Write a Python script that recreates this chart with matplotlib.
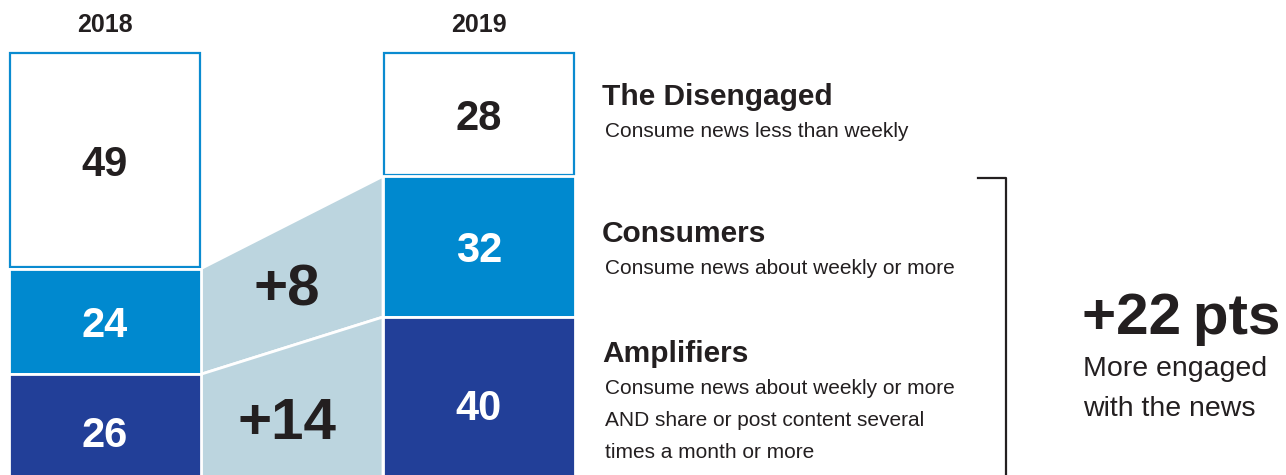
import matplotlib.pyplot as plt

plt.rcParams['font.family'] = ['Liberation Sans', 'DejaVu Sans']

# ---------------- data ----------------
years = ['2018', '2019']
groups = ['The Disengaged', 'Consumers', 'Amplifiers']
descs = [
    ['Consume news less than weekly'],
    ['Consume news about weekly or more'],
    ['Consume news about weekly or more', 'AND share or post content several', 'times a month or more'],
]
disengaged = [49, 28]
consumers = [24, 32]
amplifiers = [26, 40]
changes = ['+8', '+14']
total_change = '+22\u2009pts'
total_note = ['More engaged', 'with the news']

# ---------------- style ----------------
W, H = 1286, 475
TOP = 53      # pixel row where both bars start
S = 4.4       # pixels per percentage point
BORDER = '#0a8bd0'
C_CONS = '#0089cf'
C_AMP = '#223f98'
C_FLOW = '#bcd5df'
INK = '#231f20'

bar_x = [105, 479]
bar_w = 192


def at(px, py):
    # pixel position -> figure fraction
    return px / W, 1 - py / H


fig = plt.figure(figsize=(W / 100, H / 100), dpi=100)
ax = fig.add_axes([0, 0, 1, 1])
ax.set_xlim(0, W)
ax.set_ylim((H - TOP) / S, -TOP / S)
ax.axis('off')

cons_bottom = disengaged
amp_bottom = [d + c for d, c in zip(disengaged, consumers)]
amp_end = [b + a for b, a in zip(amp_bottom, amplifiers)]

# flows between the two bars
x1 = bar_x[0] + bar_w / 2
x2 = bar_x[1] - bar_w / 2
flows = [
    (cons_bottom, amp_bottom),
    (amp_bottom, amp_end),
]
for (top, bot), lab in zip(flows, changes):
    ys = [top[0], top[1], bot[1], bot[0]]
    ax.fill([x1, x2, x2, x1], ys, color=C_FLOW, ec='white', lw=2, zorder=1)
    ax.text((x1 + x2) / 2 - 5, sum(ys) / 4, lab, ha='center', va='center_baseline',
            fontsize=42, fontweight='bold', color=INK, zorder=3)

# stacked bars
ax.bar(bar_x, [d - 0.35 for d in disengaged], width=bar_w - 2, bottom=0,
       color='white', edgecolor=BORDER, linewidth=1.6, zorder=2)
ax.bar(bar_x, consumers, width=bar_w, bottom=cons_bottom,
       color=C_CONS, edgecolor='white', linewidth=2, zorder=2)
ax.bar(bar_x, amplifiers, width=bar_w, bottom=amp_bottom,
       color=C_AMP, edgecolor='white', linewidth=2, zorder=2)

for i, x in enumerate(bar_x):
    ax.text(x, disengaged[i] / 2, str(disengaged[i]), ha='center', va='center_baseline',
            fontsize=30, fontweight='bold', color=INK, zorder=3)
    ax.text(x, cons_bottom[i] + consumers[i] / 2, str(consumers[i]), ha='center',
            va='center_baseline', fontsize=30, fontweight='bold', color='white', zorder=3)
    ax.text(x, amp_bottom[i] + amplifiers[i] / 2, str(amplifiers[i]), ha='center',
            va='center_baseline', fontsize=30, fontweight='bold', color='white', zorder=3)
    fig.text(*at(x, 25), years[i], ha='center', va='center',
             fontsize=18, fontweight='bold', color=INK)

# legend-like labels on the right
title_y = [97, 234, 354]
for g, lines, ty in zip(groups, descs, title_y):
    fig.text(*at(602, ty), g, ha='left', va='center', fontsize=21.5,
             fontweight='bold', color=INK)
    for k, line in enumerate(lines):
        fig.text(*at(605, ty + 35 + 32 * k), line, ha='left', va='center',
                 fontsize=15, color=INK)

# bracket
bx = [978 / W, 1006 / W, 1006 / W]
by = [1 - 178 / H, 1 - 178 / H, 0]
ax.plot(bx, by, color=INK, lw=1.6, transform=fig.transFigure, clip_on=False)

fig.text(*at(1082, 313), total_change, ha='left', va='center_baseline',
         fontsize=42, fontweight='bold', color=INK)
for k, line in enumerate(total_note):
    fig.text(*at(1083, 369 + 40 * k), line, ha='left', va='center',
             fontsize=20.5, color=INK)

fig.savefig('out.png', dpi=100)
